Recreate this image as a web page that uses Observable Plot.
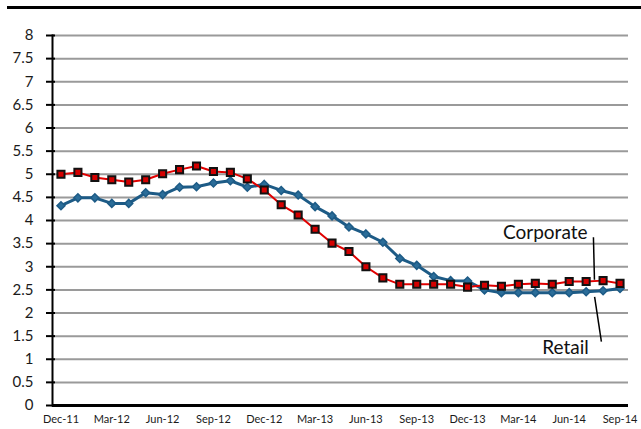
<!DOCTYPE html>
<html>
<head>
<meta charset="utf-8">
<script src="https://cdn.jsdelivr.net/npm/d3@7"></script>
<script src="https://cdn.jsdelivr.net/npm/@observablehq/plot@0.6"></script>
<style>
  html, body { margin: 0; padding: 0; background: #fff; }
  #wrap { position: relative; width: 641px; height: 429px; overflow: hidden; }
  #chart { position: absolute; left: 0; top: 0; }
  #topbar { position: absolute; left: 7px; right: 0; top: 6px; height: 0; border-top: 3px solid #000; z-index: 2; }
</style>
</head>
<body>
<div id="wrap"><div id="chart"></div><div id="topbar"></div></div>
<script>
const months = ["Dec-11","Jan-12","Feb-12","Mar-12","Apr-12","May-12","Jun-12","Jul-12","Aug-12","Sep-12","Oct-12","Nov-12",
  "Dec-12","Jan-13","Feb-13","Mar-13","Apr-13","May-13","Jun-13","Jul-13","Aug-13","Sep-13","Oct-13","Nov-13",
  "Dec-13","Jan-14","Feb-14","Mar-14","Apr-14","May-14","Jun-14","Jul-14","Aug-14","Sep-14"];
const corporate = [5.00,5.04,4.93,4.88,4.83,4.88,5.01,5.10,5.18,5.06,5.04,4.90,
  4.66,4.34,4.12,3.81,3.51,3.33,3.00,2.76,2.62,2.62,2.62,2.62,
  2.56,2.60,2.58,2.62,2.64,2.62,2.68,2.68,2.70,2.64];
const retail = [4.32,4.49,4.49,4.37,4.37,4.60,4.56,4.72,4.73,4.81,4.86,4.72,
  4.78,4.65,4.55,4.30,4.10,3.86,3.71,3.53,3.18,3.03,2.79,2.70,
  2.69,2.50,2.44,2.44,2.44,2.44,2.44,2.46,2.48,2.53];
const yTicks = d3.range(0, 8.01, 0.5);
const xTickIdx = [0,3,6,9,12,15,18,21,24,27,30,33];
const corpLabel = [{name: "Corporate", x: 31.08, y: 3.73, x1: 31.43, y1: 3.64, x2: 31.49, y2: 2.72}];
const retLabel = [{name: "Retail", x: 29.78, y: 1.25, x1: 31.5, y1: 2.35, x2: 31.9, y2: 1.38}];

const corpData = months.map((m, i) => ({i, m, v: corporate[i]}));
const retData = months.map((m, i) => ({i, m, v: retail[i]}));

const chart = Plot.plot({
  width: 641,
  height: 429,
  marginLeft: 52,
  marginRight: 13,
  marginTop: 35,
  marginBottom: 24,
  style: {fontFamily: "Lato, 'Open Sans', sans-serif", background: "#fff"},
  x: {type: "linear", domain: [-0.5, 33.5]},
  y: {domain: [0, 8]},
  marks: [
    Plot.gridY(yTicks, {stroke: "#9a9a9a", strokeOpacity: 1, strokeWidth: 2}),
    Plot.axisY(yTicks, {tickSize: 9, dx: 3, tickPadding: 13, fontSize: 15, fill: "#1a1a1a", stroke: "#000",
      tickFormat: d => String(d), strokeWidth: 2, label: null}),
    Plot.axisX(xTickIdx, {tickSize: 0, tickPadding: 10, fontSize: 11, fill: "#1a1a1a",
      tickFormat: i => months[i], label: null}),
    Plot.frame({anchor: "left", stroke: "#000", strokeWidth: 2}),
    Plot.ruleY([0], {stroke: "#000", strokeWidth: 3}),
    Plot.line(retData, {x: "i", y: "v", stroke: "#1d5b86", strokeWidth: 3}),
    Plot.dot(retData, {x: "i", y: "v", symbol: "diamond2", r: 3.6, fill: "#2b6d99", stroke: "#1d5b86", strokeWidth: 1.5}),
    Plot.line(corpData, {x: "i", y: "v", stroke: "#e00000", strokeWidth: 2}),
    Plot.dot(corpData, {x: "i", y: "v", symbol: "square", r: 4, fill: "#d40000", stroke: "#111", strokeWidth: 2}),
    Plot.link(corpLabel, {x1: "x1", y1: "y1", x2: "x2", y2: "y2", stroke: "#000", strokeWidth: 1.5}),
    Plot.link(retLabel, {x1: "x1", y1: "y1", x2: "x2", y2: "y2", stroke: "#000", strokeWidth: 1.5}),
    Plot.text(corpLabel, {x: "x", y: "y", text: "name", textAnchor: "end", fontSize: 19, fill: "#111"}),
    Plot.text(retLabel, {x: "x", y: "y", text: "name", textAnchor: "middle", fontSize: 19, fill: "#111"})
  ]
});
document.getElementById("chart").appendChild(chart);
</script>
</body>
</html>
